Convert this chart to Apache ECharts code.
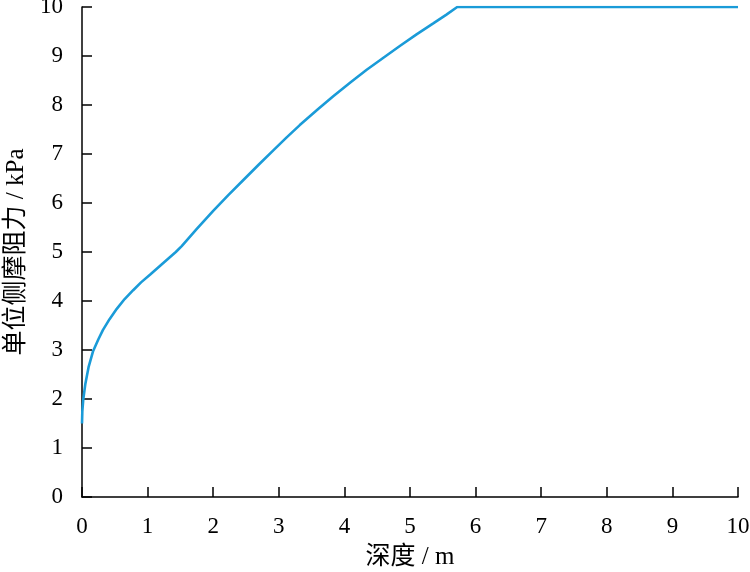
<!DOCTYPE html>
<html>
<head>
<meta charset="utf-8">
<script src="https://cdn.jsdelivr.net/npm/echarts@6/dist/echarts.min.js"></script>
<style>html,body{margin:0;padding:0;background:#fff;}#c{width:750px;height:572px;}</style>
</head>
<body>
<div id="c"></div>
<script>
var depth = [0, 0.005, 0.02, 0.05, 0.1, 0.17, 0.25, 0.32, 0.42, 0.53, 0.65, 0.78, 0.9, 1.04, 1.2, 1.43,
             1.52, 1.75, 2.0, 2.23, 2.46, 2.7, 2.92, 3.12, 3.32, 3.6, 3.83, 4.1, 4.34, 4.6, 4.85, 5.1, 5.36, 5.55, 5.72, 10];
var resistance = [1.5, 1.75, 2.0, 2.3, 2.65, 2.98, 3.22, 3.41, 3.63, 3.84, 4.04, 4.22, 4.38, 4.54, 4.73, 5.0,
                  5.12, 5.47, 5.84, 6.16, 6.47, 6.79, 7.08, 7.34, 7.59, 7.92, 8.18, 8.47, 8.72, 8.97, 9.21, 9.44, 9.67, 9.84, 10, 10];
var xTicks = [0,1,2,3,4,5,6,7,8,9,10];
var yTicks = [0,1,2,3,4,5,6,7,8,9,10];
var xName = '深度 / m';
var yName = '单位侧摩阻力 / kPa';

var data = depth.map(function(d, i){ return [d, resistance[i]]; });
var serif = '"Liberation Serif","Times New Roman","Noto Sans CJK SC",serif';
var chart = echarts.init(document.getElementById('c'));
chart.setOption({
  animation: false,
  grid: {left: 82, right: 12, top: 7, bottom: 75, containLabel: false, outerBoundsMode: 'none'},
  xAxis: {
    type: 'value', min: xTicks[0], max: xTicks[xTicks.length-1], interval: 1,
    name: xName, nameLocation: 'middle', nameGap: 48,
    nameTextStyle: {fontSize: 25, color: '#000', fontFamily: serif},
    axisLine: {show: true, lineStyle: {color: '#000', width: 1.5}},
    axisTick: {show: true, inside: true, length: 10, lineStyle: {color: '#000', width: 1.5}},
    axisLabel: {fontSize: 23, color: '#000', fontFamily: serif, margin: 18},
    splitLine: {show: false}
  },
  yAxis: {
    type: 'value', min: yTicks[0], max: yTicks[yTicks.length-1], interval: 1,
    name: yName, nameLocation: 'middle', nameGap: 52,
    nameTextStyle: {fontSize: 25, color: '#000', fontFamily: serif},
    axisLine: {show: true, lineStyle: {color: '#000', width: 1.5}},
    axisTick: {show: true, inside: true, length: 10, lineStyle: {color: '#000', width: 1.5}},
    axisLabel: {fontSize: 23, color: '#000', fontFamily: serif, margin: 19},
    splitLine: {show: false}
  },
  series: [{
    type: 'line', data: data, showSymbol: false, smooth: false,
    lineStyle: {color: '#1a9bd8', width: 2.6}
  }]
});
</script>
</body>
</html>
